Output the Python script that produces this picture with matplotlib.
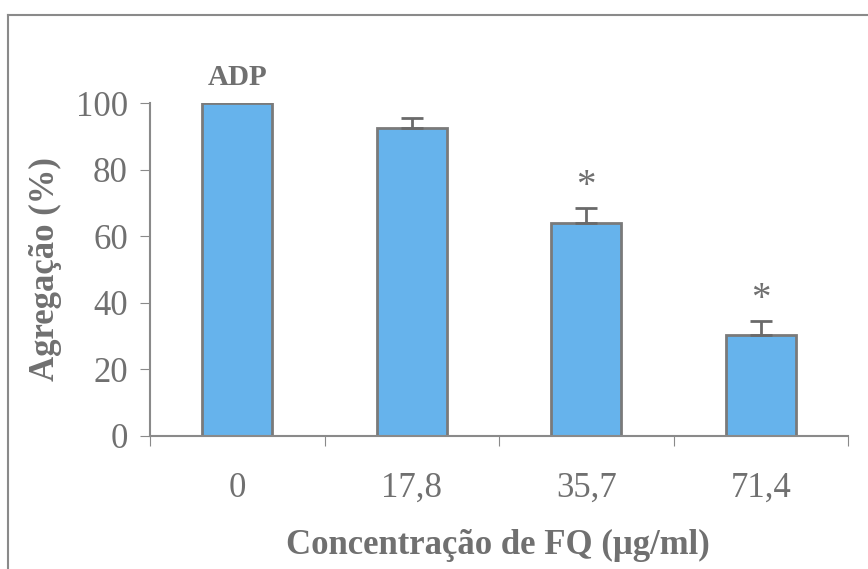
import matplotlib
matplotlib.use("Agg")
import matplotlib.pyplot as plt
from matplotlib.lines import Line2D
import numpy as np

categories = ["0", "17,8", "35,7", "71,4"]
values = [100.0, 92.4, 63.9, 30.2]
errors = [0.0, 3.1, 4.6, 4.4]
significant = [False, False, True, True]
y_ticks = [0, 20, 40, 60, 80, 100]

text_gray = "#707070"
axis_gray = "#8a8a8a"
bar_fill = "#66b3ec"
bar_edge = "#7a7a7a"

plt.rcParams["font.family"] = ["Liberation Serif", "DejaVu Serif"]

fig = plt.figure(figsize=(8.68, 5.69), dpi=100)
ax = fig.add_axes([150 / 868, 1 - 436 / 569, 698 / 868, 333 / 569])

x = np.arange(len(categories))
ax.bar(x, values, width=0.4, color=bar_fill, edgecolor=bar_edge, linewidth=2, zorder=2)
ax.errorbar(x[1:], values[1:], yerr=[np.zeros(len(x) - 1), errors[1:]], fmt="none",
            ecolor="#6a6a6a", elinewidth=2, capsize=8, capthick=2, zorder=3)

for xi, v, e, s in zip(x, values, errors, significant):
    if s:
        ax.text(xi, v + e + 0.8, "*", ha="center", va="bottom", fontsize=28,
                color=text_gray)

ax.text(x[0], 103.5, "ADP", ha="center", va="bottom", fontsize=21,
        fontweight="bold", color=text_gray)

ax.set_xlim(-0.5, len(categories) - 0.5)
ax.set_ylim(0, 100)
ax.set_yticks(y_ticks)
ax.set_yticklabels([str(t) for t in y_ticks], fontsize=25, color=text_gray)
ax.set_xticks(np.arange(len(categories) + 1) - 0.5)
ax.set_xticklabels([])
ax.set_xticks(x, minor=True)
ax.set_xticklabels(categories, minor=True, fontsize=25, color=text_gray)
ax.tick_params(axis="x", which="minor", length=0, pad=26)
ax.tick_params(axis="x", which="major", length=7, color=axis_gray, direction="out")
ax.tick_params(axis="y", length=7, color=axis_gray, direction="out", pad=9)

for side in ("top", "right"):
    ax.spines[side].set_visible(False)
for side in ("left", "bottom"):
    ax.spines[side].set_color(axis_gray)
    ax.spines[side].set_linewidth(1.5)
ax.spines["bottom"].set_bounds(-0.5, len(categories) - 0.5)

ax.set_ylabel("Agregação (%)", fontsize=25, fontweight="bold", color=text_gray, labelpad=10)
fig.text(498 / 868, 1 - 545 / 569, "Concentração de FQ (μg/ml)", ha="center", va="center",
         fontsize=25, fontweight="bold", color=text_gray)

# outer frame (top and left edges)
fig.add_artist(Line2D([8 / 868, 1.0], [1 - 15 / 569, 1 - 15 / 569], color="#8a8a8a", lw=1.5))
fig.add_artist(Line2D([8 / 868, 8 / 868], [1 - 15 / 569, 0.0], color="#8a8a8a", lw=1.5))

fig.savefig("out.png", dpi=100)
